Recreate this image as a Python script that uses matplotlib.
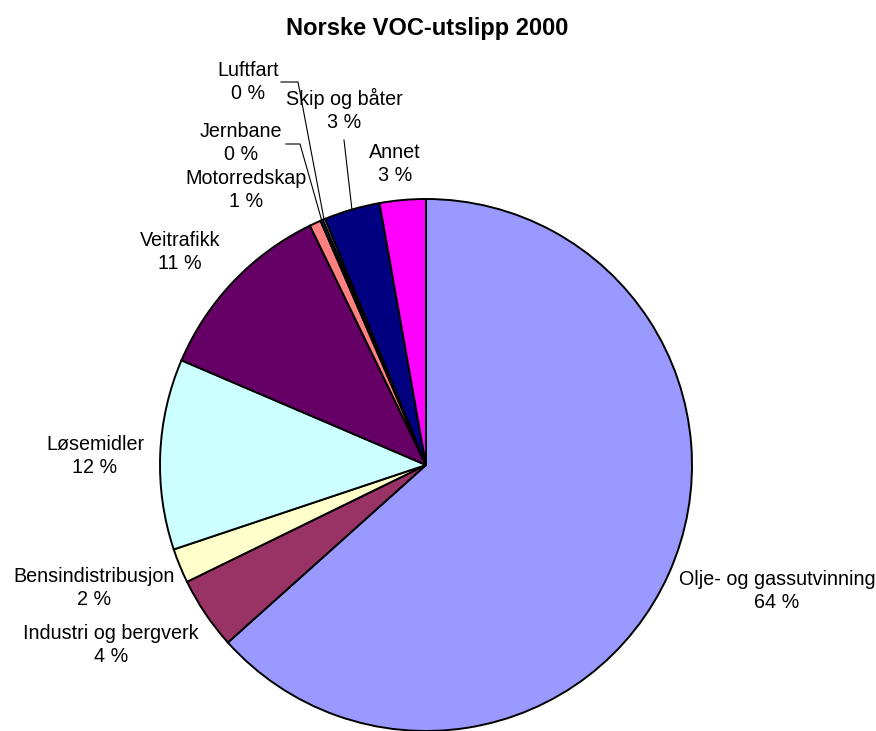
import numpy as np
import matplotlib
matplotlib.use('Agg')
import matplotlib.pyplot as plt

# data (percent of total)
categories = ['Olje- og gassutvinning', 'Industri og bergverk', 'Bensindistribusjon',
              'Løsemidler', 'Veitrafikk', 'Motorredskap', 'Jernbane', 'Luftfart',
              'Skip og båter', 'Annet']
values = [63.5, 4.4, 2.1, 11.6, 11.4, 0.7, 0.15, 0.15, 3.4, 2.8]
colors = ['#9999FF', '#993366', '#FFFFCC', '#CCFFFF', '#660066',
          '#FF8080', '#0066CC', '#CCCCFF', '#000080', '#FF00FF']

# label centres in pixels (x, y from top)
label_pos = {
    'Olje- og gassutvinning': (777, 591),
    'Industri og bergverk': (111, 645),
    'Bensindistribusjon': (94, 588),
    'Løsemidler': (95, 456),
    'Veitrafikk': (180, 252),
    'Motorredskap': (246, 190),
    'Jernbane': (241, 143),
    'Luftfart': (248, 82),
    'Skip og båter': (344, 110),
    'Annet': (395, 164),
}
# leader lines: start point in pixels, elbow x (None = straight)
leaders = {
    'Luftfart': ((281, 82), 298),
    'Jernbane': ((286, 144), 300),
    'Skip og båter': ((344, 140), None),
}

W, H = 876, 731
cx, cy, r = 426, 465, 266

plt.rcParams['font.family'] = ['Liberation Sans', 'DejaVu Sans']

fig = plt.figure(figsize=(W / 100, H / 100), dpi=100)
ax = fig.add_axes([0, 0, 1, 1])

def py(y):
    return H - y

wedges, _ = ax.pie(values, colors=colors, startangle=90, counterclock=False,
                   center=(cx, py(cy)), radius=r,
                   wedgeprops=dict(edgecolor='black', linewidth=1.4))
ax.set_xlim(0, W)
ax.set_ylim(0, H)
ax.set_aspect('equal')
ax.axis('off')

for name, val in zip(categories, values):
    x, y = label_pos[name]
    ax.text(x, py(y), '%s\n%d %%' % (name, round(val)), ha='center', va='center',
            ma='center', fontsize=14.2, linespacing=1.22)

for w, name in zip(wedges, categories):
    if name not in leaders:
        continue
    (sx, sy), ex = leaders[name]
    mid = np.deg2rad((w.theta1 + w.theta2) / 2)
    tx = cx + r * np.cos(mid)
    ty = py(cy) + r * np.sin(mid)
    xs = [sx]
    ys = [py(sy)]
    if ex is not None:
        xs.append(ex)
        ys.append(py(sy))
    xs.append(tx)
    ys.append(ty)
    ax.plot(xs, ys, color='black', linewidth=0.8)

fig.text(427 / W, 1 - 28 / H, 'Norske VOC-utslipp 2000', ha='center', va='center',
         fontsize=17, fontweight='bold')

fig.savefig('out.png', dpi=100)
